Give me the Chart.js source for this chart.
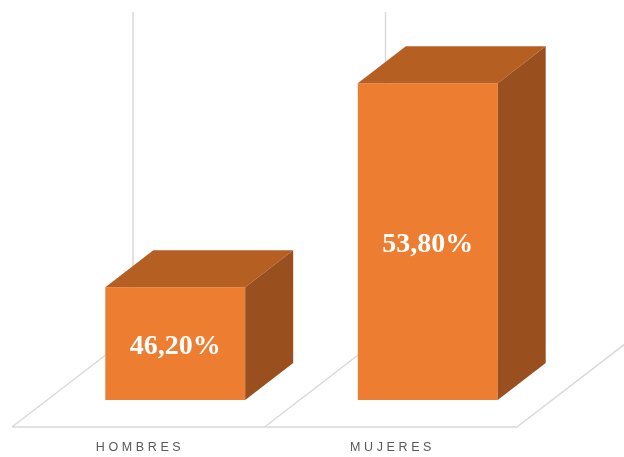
<!DOCTYPE html>
<html lang="es">
<head>
  <meta charset="UTF-8" />
  <title>Distribución por sexo</title>
  <script src="https://cdn.jsdelivr.net/npm/chart.js@4"></script>
  <style>
    html, body { margin: 0; padding: 0; background: #fff; }
    #wrap { width: 624px; height: 457px; }
  </style>
</head>
<body>
  <div id="wrap"><canvas id="chart"></canvas></div>

  <script>
    const categories = ['HOMBRES', 'MUJERES'];
    const shares     = [46.20, 53.80];
    const axisMin = 42;
    const axisMax = 54;

    // oblique projection offsets (px) relative to the bars' front plane
    const BAR_DEPTH   = { dx: 48, dy: -37 };
    const FLOOR_FRONT = { dx: -37, dy: 27 };
    const FLOOR_BACK  = { dx: 84, dy: -66 };

    const FRONT = '#ED7D31';
    const TOP   = '#B55F23';
    const SIDE  = '#9A501E';
    const GRID  = '#D9D9D9';

    const fmt = v => v.toFixed(2).replace('.', ',') + '%';

    function poly(ctx, pts, fill) {
      ctx.beginPath();
      ctx.moveTo(pts[0][0], pts[0][1]);
      for (let i = 1; i < pts.length; i++) ctx.lineTo(pts[i][0], pts[i][1]);
      ctx.closePath();
      ctx.fillStyle = fill;
      ctx.fill();
    }

    // floor, back-wall gridlines and category labels
    const floorPlugin = {
      id: 'floor3d',
      beforeDatasetsDraw(chart) {
        const { ctx, chartArea: a, scales: { x } } = chart;
        const n = categories.length;
        const step = (a.right - a.left) / n;
        const edges = [];
        for (let i = 0; i <= n; i++) edges.push(a.left + i * step);

        ctx.save();
        ctx.strokeStyle = GRID;
        ctx.lineWidth = 1.5;
        const fy = a.bottom + FLOOR_FRONT.dy;
        const by = a.bottom + FLOOR_BACK.dy;

        // front edge of the floor
        ctx.beginPath();
        ctx.moveTo(edges[0] + FLOOR_FRONT.dx, fy);
        ctx.lineTo(edges[n] + FLOOR_FRONT.dx, fy);
        ctx.stroke();

        // depth lines and vertical wall lines at each category edge
        edges.forEach(e => {
          ctx.beginPath();
          ctx.moveTo(e + FLOOR_FRONT.dx, fy);
          ctx.lineTo(e + FLOOR_BACK.dx, by);
          ctx.stroke();
          ctx.beginPath();
          ctx.moveTo(e + FLOOR_BACK.dx, by);
          ctx.lineTo(e + FLOOR_BACK.dx, a.top + FLOOR_BACK.dy);
          ctx.stroke();
        });

        // category labels under the floor
        ctx.fillStyle = '#595959';
        ctx.font = '12.5px "Liberation Sans", Arial, sans-serif';
        ctx.letterSpacing = '3.6px';
        ctx.textAlign = 'center';
        ctx.textBaseline = 'middle';
        categories.forEach((c, i) => {
          const cx = x.getPixelForValue(i) + FLOOR_FRONT.dx + 1.8;
          ctx.fillText(c, cx, fy + 21);
        });
        ctx.restore();
      },
      afterDatasetsDraw(chart) {
        const { ctx, scales: { y: ys } } = chart;
        const meta = chart.getDatasetMeta(0);
        const base = ys.getPixelForValue(axisMin);
        ctx.save();
        meta.data.forEach((bar, i) => {
          const { x, width } = bar.getProps(['x', 'width'], true);
          const y = ys.getPixelForValue(shares[i]);
          const l = x - width / 2, r = x + width / 2;
          const d = BAR_DEPTH;
          // top face
          poly(ctx, [[l, y], [r, y], [r + d.dx, y + d.dy], [l + d.dx, y + d.dy]], TOP);
          // right side face
          poly(ctx, [[r, y], [r + d.dx, y + d.dy], [r + d.dx, base + d.dy], [r, base]], SIDE);

          // value label on the front face
          ctx.fillStyle = '#FFFFFF';
          ctx.font = 'bold 28px "Liberation Serif", "Times New Roman", serif';
          ctx.textAlign = 'center';
          ctx.textBaseline = 'middle';
          ctx.fillText(fmt(shares[i]), x, (y + base) / 2 + 3);
        });
        ctx.restore();
      }
    };

    new Chart(document.getElementById('chart'), {
      type: 'bar',
      data: {
        labels: categories,
        datasets: [{
          data: shares,
          backgroundColor: FRONT,
          borderWidth: 0,
          barPercentage: 1,
          categoryPercentage: 0.554
        }]
      },
      options: {
        responsive: true,
        maintainAspectRatio: false,
        animation: false,
        layout: { padding: { left: 49, right: 70, top: 78, bottom: 57 } },
        scales: {
          x: { display: false },
          y: { display: false, min: axisMin, max: axisMax }
        },
        plugins: {
          legend: { display: false },
          tooltip: { enabled: false }
        }
      },
      plugins: [floorPlugin]
    });
  </script>
</body>
</html>
